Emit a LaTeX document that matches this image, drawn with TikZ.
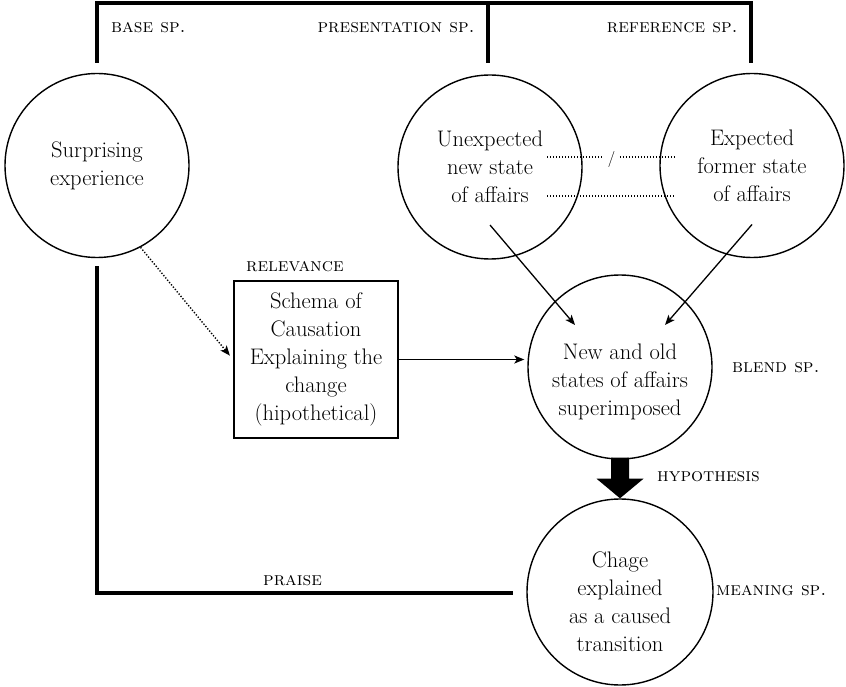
\documentclass[tikz,border=0pt]{standalone}
\usetikzlibrary{arrows.meta,calc}
\newcommand\diagbody{\fontsize{22.5}{28}\selectfont}
\newcommand\diaglabel{\fontsize{19}{21}\selectfont\scshape}
\begin{document}
\begin{tikzpicture}[x=1pt,y=-1pt,
  space/.style={circle, draw, line width=1.4pt, minimum size=184pt, inner sep=0pt,
                align=center, font=\diagbody},
  body/.style={align=center, font=\diagbody, inner sep=0pt},
  schemabox/.style={rectangle, draw, line width=1.8pt, minimum width=164pt,
                    minimum height=157pt, inner sep=0pt, align=center, font=\diagbody},
  lbl/.style={font=\diaglabel, inner sep=0pt},
  frame/.style={line width=4.5pt},
  link/.style={line width=1.3pt, -{Stealth[length=10pt,width=8pt,inset=2.5pt]}},
  dots/.style={line width=1.4pt, dash pattern=on 1.3pt off 1.7pt}]
\useasboundingbox (0,0) rectangle (846,687);

% mental spaces
\node[space] (base)  at (97,165.5) {Surprising\\experience};
\node[space] (unexp) at (490,167)  {Unexpected\\new state\\of affairs};
\node[space] (exp)   at (752,165.5) {Expected\\former state\\of affairs};
\node[space] (blend) at (620,367) {};
\node[body]  (blendtxt) at (620,382) {New and old\\states of affairs\\superimposed};
\node[space, minimum size=186pt] (meaning) at (620,592) {};
\node[body]  (meaningtxt) at (620,602) {Chage\\explained\\as a caused\\transition};
\node[schemabox] (schema) at (316,359.5) {Schema of\\Causation\\Explaining the\\change\\(hipothetical)};

% space labels
\node[lbl, anchor=base west] (lbase) at (111,33)  {base sp.};
\node[lbl, anchor=base east] (lpres) at (475,33)  {presentation sp.};
\node[lbl, anchor=base east] (lref)  at (738,33)  {reference sp.};
\node[lbl, anchor=base west] (lrel)  at (246,271) {relevance};
\node[lbl, anchor=base west] (lblend) at (732,372) {blend sp.};
\node[lbl, anchor=base west] (lhyp)  at (657,481) {hypothesis};
\node[lbl, anchor=base west] (lpraise) at (263,585) {praise};
\node[lbl, anchor=base west] (lmean) at (716,595) {meaning sp.};

% top bracket
\coordinate (topl)  at (97,3);
\coordinate (topr)  at (751,3);
\coordinate (ptop)  at (488,3);
\coordinate (bstem) at (97,63);
\coordinate (pstem) at (488,63);
\coordinate (rstem) at (751,63);
\draw[frame] (bstem) -- (topl) -- (topr) -- (rstem);
\draw[frame] (ptop) -- (pstem);

% praise bracket
\coordinate (lstem) at (97,266);
\coordinate (praiseend) at (513,593);
\draw[frame] (lstem) |- (praiseend);

% correspondence between the two input states
\coordinate (d1a) at (547,157);
\coordinate (d1b) at (675,157);
\coordinate (d2a) at (547,196);
\coordinate (d2b) at (675,196);
\node[font=\fontsize{16}{16}\selectfont, inner sep=4.5pt] (slash) at (611.5,159.5) {/};
\draw[dots] (d1a) -- (d1a -| slash.west);
\draw[dots] (d1b -| slash.east) -- (d1b);
\draw[dots] (d2a) -- (d2b);

% projections into the blend
\coordinate (usrc) at ($(unexp.center)+(0,58)$);
\coordinate (esrc) at ($(exp.center)+(0,59)$);
\coordinate (utip) at ($(blend.center)+(-45,-42)$);
\coordinate (etip) at ($(blend.center)+(45,-42)$);
\draw[link] (usrc) -- (utip);
\draw[link] (esrc) -- (etip);
\draw[link, shorten >=3pt] (schema.east) -- (schema.east -| blend.west);
\draw[dots, -{Stealth[length=10pt,width=8pt,inset=2.5pt]}, shorten >=5pt]
  (base.-62) -- (schema.west);

% hypothesis arrow
\fill ($(blend.south)+(-9,-2)$) -- ($(blend.south)+(-9,19)$)
  -- ($(blend.south)+(-23.5,19)$) -- (meaning.north)
  -- ($(blend.south)+(23.5,19)$) -- ($(blend.south)+(9,19)$)
  -- ($(blend.south)+(9,-2)$) -- cycle;
\end{tikzpicture}
\end{document}
